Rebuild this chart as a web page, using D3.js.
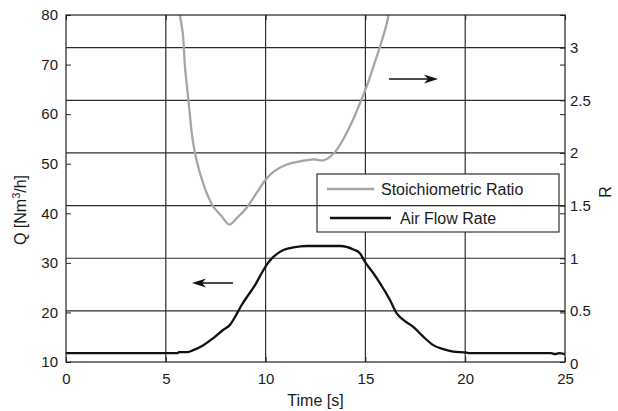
<!DOCTYPE html>
<html>
<head>
<meta charset="utf-8">
<script src="https://cdn.jsdelivr.net/npm/d3@7"></script>
<style>
  html, body { margin: 0; padding: 0; background: #fff; }
  svg { display: block; }
  text { font-family: "Liberation Sans", Arial, sans-serif; fill: #1a1a1a; }
</style>
</head>
<body>
<svg id="chart" width="618" height="411"></svg>
<script>
// ---- Data ----
const xTicks = [0, 5, 10, 15, 20, 25];
const qTicks = [10, 20, 30, 40, 50, 60, 70, 80];
const rTicks = [0, 0.5, 1, 1.5, 2, 2.5, 3];
const rGrid = [0.5, 1, 1.5, 2, 2.5, 3];

// Air flow rate (left axis, Nm3/h)
const timeAir = [0, 2, 4, 5.6, 5.65, 6.1, 6.38, 6.88, 7.38, 7.88, 8.22, 8.47, 8.8, 9.13, 9.47, 9.8, 10.05, 10.39, 10.89, 11.39, 12.06, 13.0, 13.73, 14.4, 14.73, 14.98, 15.4, 15.73, 16.23, 16.57, 16.9, 17.4, 17.9, 18.4, 18.9, 19.4, 20.07, 20.2, 22, 24.3, 24.5, 24.7, 25];
const airFlow = [11.8, 11.8, 11.8, 11.8, 12.0, 12.0, 12.4, 13.4, 14.8, 16.5, 17.5, 19.1, 21.5, 23.5, 25.5, 27.9, 29.6, 31.2, 32.6, 33.1, 33.4, 33.4, 33.4, 32.7, 31.9, 30.2, 27.9, 25.9, 22.5, 19.8, 18.5, 17.1, 15.1, 13.4, 12.6, 12.1, 11.9, 11.8, 11.8, 11.8, 11.6, 11.8, 11.6];

// Stoichiometric ratio (right axis, R)
const timeRatio = [5.3, 5.71, 5.85, 5.96, 6.13, 6.3, 6.46, 6.71, 7.05, 7.38, 7.8, 8.18, 8.55, 9.05, 9.55, 10.02, 10.39, 11.06, 11.72, 12.39, 12.89, 13.39, 13.89, 14.39, 14.81, 15.06, 15.4, 15.73, 16.03, 16.15, 16.5];
const ratio = [4.2, 3.31, 3.14, 2.82, 2.51, 2.19, 2.0, 1.81, 1.62, 1.49, 1.4, 1.32, 1.38, 1.48, 1.62, 1.75, 1.82, 1.89, 1.92, 1.94, 1.93, 1.99, 2.13, 2.32, 2.51, 2.63, 2.82, 3.01, 3.2, 3.3, 3.8];

const legendLabels = ["Stoichiometric Ratio", "Air Flow Rate"];

// ---- Layout ----
const L = 66, R = 565, T = 15, B = 362;
const svg = d3.select("#chart");

const x = d3.scaleLinear().domain([0, 25]).range([L, R]);
const yQ = d3.scaleLinear().domain([10, 80]).range([B, T]);
const yR = d3.scaleLinear().domain([0.015, 3.31]).range([B, T]);

svg.append("defs").append("clipPath").attr("id", "plotclip")
  .append("rect").attr("x", L).attr("y", T).attr("width", R - L).attr("height", B - T);

const gridColor = "#2e2e2e";

// vertical grid lines
svg.append("g").selectAll("line").data(xTicks.filter(d => d > 0 && d < 25)).join("line")
  .attr("x1", d => x(d)).attr("x2", d => x(d)).attr("y1", T).attr("y2", B)
  .attr("stroke", gridColor).attr("stroke-width", 1.2);

// legend box (hides vertical grid lines behind it)
const lg = { x: 317, y: 174, w: 242, h: 58 };
svg.append("rect").attr("x", lg.x).attr("y", lg.y).attr("width", lg.w).attr("height", lg.h)
  .attr("fill", "#fff").attr("stroke", "#333").attr("stroke-width", 1.2);

// horizontal grid lines (right axis)
svg.append("g").selectAll("line").data(rGrid).join("line")
  .attr("x1", L).attr("x2", R).attr("y1", d => yR(d)).attr("y2", d => yR(d))
  .attr("stroke", gridColor).attr("stroke-width", 1.2);

// curves
const plot = svg.append("g").attr("clip-path", "url(#plotclip)");
const lineR = d3.line().x((d, i) => x(timeRatio[i])).y(d => yR(d)).curve(d3.curveCatmullRom.alpha(0.5));
plot.append("path").datum(ratio).attr("d", lineR)
  .attr("fill", "none").attr("stroke", "#a6a6a6").attr("stroke-width", 2.3).attr("stroke-linejoin", "round");
const lineQ = d3.line().x((d, i) => x(timeAir[i])).y(d => yQ(d)).curve(d3.curveMonotoneX);
plot.append("path").datum(airFlow).attr("d", lineQ)
  .attr("fill", "none").attr("stroke", "#111").attr("stroke-width", 2.3).attr("stroke-linejoin", "round");

// axes
function styleAxis(g) {
  g.select(".domain").remove();
  g.selectAll(".tick line").attr("stroke", "#222").attr("stroke-width", 1);
  g.selectAll(".tick text").attr("font-size", 15).attr("fill", "#1a1a1a")
    .attr("font-family", "Liberation Sans, Arial, sans-serif");
}
svg.append("g").attr("transform", `translate(0,${B})`)
  .call(d3.axisBottom(x).tickValues(xTicks).tickSize(-5).tickPadding(11).tickFormat(d3.format("d")))
  .call(styleAxis);
svg.append("g").attr("transform", `translate(0,${T})`)
  .call(d3.axisTop(x).tickValues(xTicks).tickSize(-5).tickFormat(""))
  .call(styleAxis);
svg.append("g").attr("transform", `translate(${L},0)`)
  .call(d3.axisLeft(yQ).tickValues(qTicks).tickSize(-5).tickPadding(8).tickFormat(d3.format("d")))
  .call(styleAxis);
svg.append("g").attr("transform", `translate(${R},0)`)
  .call(d3.axisRight(yQ).tickValues(qTicks).tickSize(-5).tickFormat(""))
  .call(styleAxis);
const rAx = svg.append("g").attr("transform", `translate(${R},0)`)
  .call(d3.axisRight(yR).tickValues(rTicks).tickSize(-5).tickPadding(5).tickFormat(d => d3.format("")(d)))
  .call(styleAxis);
rAx.selectAll(".tick").filter(d => d === 0).select("line").remove();

// box
svg.append("rect").attr("x", L).attr("y", T).attr("width", R - L).attr("height", B - T)
  .attr("fill", "none").attr("stroke", "#222").attr("stroke-width", 1.2);

// legend entries
svg.append("line").attr("x1", 327).attr("x2", 374).attr("y1", 189).attr("y2", 189)
  .attr("stroke", "#a6a6a6").attr("stroke-width", 2.3);
svg.append("text").attr("x", 381).attr("y", 195).attr("font-size", 16).text(legendLabels[0]);
svg.append("line").attr("x1", 330).attr("x2", 391).attr("y1", 218).attr("y2", 218)
  .attr("stroke", "#111").attr("stroke-width", 2.3);
svg.append("text").attr("x", 400).attr("y", 224).attr("font-size", 16).text(legendLabels[1]);

// arrows
function arrow(x1, y1, x2, y2) {
  const g = svg.append("g");
  const dir = Math.sign(x2 - x1);
  g.append("line").attr("x1", x1).attr("y1", y1).attr("x2", x2 - dir * 6).attr("y2", y2)
    .attr("stroke", "#111").attr("stroke-width", 1.3);
  const len = 14, hw = 4.5, notch = 4;
  g.append("path")
    .attr("d", `M${x2},${y2} L${x2 - dir * len},${y2 - hw} L${x2 - dir * (len - notch)},${y2} L${x2 - dir * len},${y2 + hw} Z`)
    .attr("fill", "#111");
}
arrow(389, 79, 438, 79);
arrow(233, 283, 192, 283);

// axis titles
svg.append("text").attr("x", (L + R) / 2).attr("y", 406).attr("text-anchor", "middle")
  .attr("font-size", 16).text("Time [s]");
const ql = svg.append("text").attr("transform", "translate(26,210) rotate(-90)")
  .attr("text-anchor", "middle").attr("font-size", 16);
ql.append("tspan").text("Q [Nm");
ql.append("tspan").attr("font-size", 11).attr("dy", -6).text("3");
ql.append("tspan").attr("dy", 6).text("/h]");
svg.append("text").attr("transform", "translate(611,192) rotate(-90)")
  .attr("text-anchor", "middle").attr("font-size", 16).text("R");
</script>
</body>
</html>
